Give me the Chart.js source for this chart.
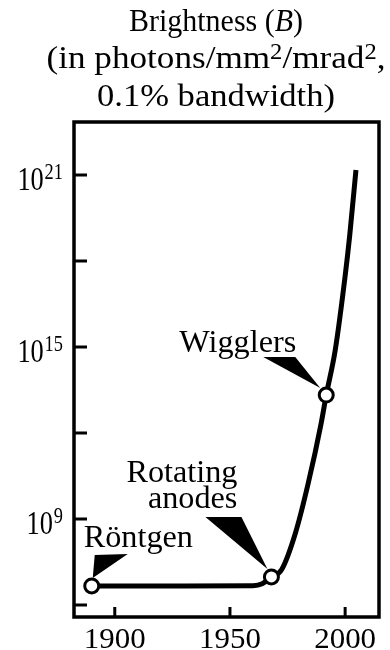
<!DOCTYPE html>
<html>
<head>
<meta charset="utf-8">
<script src="https://cdn.jsdelivr.net/npm/chart.js"></script>
<style>
  body { margin: 0; background: #fff; }
  .wrap { position: relative; width: 390px; height: 650px; }
  .tl { position: absolute; left: 216px; white-space: nowrap; font-family: "Liberation Serif", serif;
        font-size: 32px; line-height: 32px; color: #000; transform-origin: 0 0; }
  .tl sup { font-size: 0.7em; vertical-align: 0.42em; line-height: 0; }
</style>
</head>
<body>
<div class="wrap">
  <canvas id="c"></canvas>
  <div class="tl" style="top:4px">Brightness (<i>B</i>)</div>
  <div class="tl" style="top:41px">(in photons/mm<sup>2</sup>/mrad<sup>2</sup>,</div>
  <div class="tl" style="top:79px">0.1% bandwidth)</div>
</div>
<script>
// curve
const curveYears = [1890, 1930, 1960, 1964, 1968, 1972.4, 1978.4, 1984, 1989.6, 1991.8, 1995.7, 2000, 2002, 2004.7];
const curveValues = [4.6e6, 4.6e6, 4.7e6, 5.5e6, 9.5e6, 1.7e7, 3.2e8, 1.8e10, 2.2e12, 2.1e13, 7.8e14, 3e17, 8e18, 1.5e21];

// marked milestones
const milestoneNames = [['Röntgen'], ['Rotating', 'anodes'], ['Wigglers']];
const milestoneYears = [1890, 1968, 1991.8];
const milestoneValues = [4.6e6, 9.5e6, 2.1e13];

// axis ticks
const xTicks = [1900, 1950, 2000];
const yTicks = [1e6, 1e9, 1e12, 1e15, 1e18, 1e21];
const yTickExponents = ['', '9', '', '15', '', '21'];

const FONT = '"Liberation Serif", serif';

// title lines are stretched to the widths seen in the scan
const titleWidths = [174, 339, 238];
document.querySelectorAll('.tl').forEach((el, i) => {
  const w = el.getBoundingClientRect().width;
  const sx = titleWidths[i] / w;
  el.style.transform = 'scale(' + sx + ', 1) translateX(-50%)';
});

// label placement relative to its point (text anchor + wedge pointer)
const labelLayout = [
  { align: 'left', dx: -8, dy: [-39], wedge: [[1, -8], [3, -31], [36, -32]] },
  { align: 'right', dx: -34, dy: [-95, -69], wedge: [[-4, -8], [-66, -60], [-30, -60]] },
  { align: 'right', dx: -30, dy: [-43], wedge: [[-6, -7], [-63, -38], [-31, -38]] }
];

// draws text horizontally squeezed/stretched so it fits the width seen in the scan
function fitText(ctx, txt, x, y, fontPx, sx, sy, align) {
  ctx.save();
  ctx.translate(x, y);
  ctx.scale(sx, sy);
  ctx.font = fontPx + 'px ' + FONT;
  ctx.textAlign = align;
  ctx.fillText(txt, 0, 0);
  ctx.restore();
}

const decor = {
  id: 'decor',
  afterDraw(chart) {
    const ctx = chart.ctx;
    const a = chart.chartArea;
    const xs = chart.scales.x, ys = chart.scales.y;
    ctx.save();
    ctx.strokeStyle = '#000';
    ctx.fillStyle = '#000';
    ctx.textBaseline = 'alphabetic';
    ctx.lineWidth = 3.5;
    ctx.strokeRect(a.left, a.top, a.right - a.left, a.bottom - a.top);

    // inward ticks
    ctx.lineWidth = 3;
    ctx.beginPath();
    xs.ticks.forEach(t => {
      const px = xs.getPixelForValue(t.value);
      ctx.moveTo(px, a.bottom); ctx.lineTo(px, a.bottom - 10);
    });
    ys.ticks.forEach(t => {
      const py = ys.getPixelForValue(t.value);
      ctx.moveTo(a.left, py); ctx.lineTo(a.left + 13, py);
    });
    ctx.stroke();

    // x labels
    xs.ticks.forEach(t => {
      fitText(ctx, String(t.value), xs.getPixelForValue(t.value), a.bottom + 31, 30, 1.03, 1, 'center');
    });

    // y labels: 10 with superscript exponent
    ys.ticks.forEach((t, i) => {
      const exp = yTickExponents[i];
      if (!exp) return;
      const py = ys.getPixelForValue(t.value);
      ctx.save();
      ctx.translate(a.left - 11, py);
      ctx.scale(0.8, 1);
      ctx.textAlign = 'right';
      ctx.font = '23px ' + FONT;
      const ew = ctx.measureText(exp).width;
      ctx.fillText(exp, 0, 4);
      ctx.font = '33px ' + FONT;
      ctx.fillText('10', -ew - 1, 15);
      ctx.restore();
    });

    // milestone labels with wedge pointers
    const meta = chart.getDatasetMeta(0);
    meta.data.forEach((pt, i) => {
      const L = labelLayout[i];
      ctx.beginPath();
      L.wedge.forEach(([dx, dy], k) => {
        if (k === 0) ctx.moveTo(pt.x + dx, pt.y + dy); else ctx.lineTo(pt.x + dx, pt.y + dy);
      });
      ctx.closePath();
      ctx.fill();
      milestoneNames[i].forEach((line, k) => {
        fitText(ctx, line, pt.x + L.dx, pt.y + L.dy[k], 31, 1.04, 1, L.align);
      });
    });
    ctx.restore();
  }
};

new Chart(document.getElementById('c'), {
  type: 'line',
  data: {
    datasets: [
      {
        type: 'scatter',
        data: milestoneYears.map((x, i) => ({ x, y: milestoneValues[i] })),
        pointRadius: 7,
        pointBorderWidth: 3,
        pointBackgroundColor: '#fff',
        pointBorderColor: '#000',
        order: 0
      },
      {
        data: curveYears.map((x, i) => ({ x, y: curveValues[i] })),
        borderColor: '#000',
        borderWidth: 5,
        pointRadius: 0,
        cubicInterpolationMode: 'monotone',
        fill: false,
        order: 1
      }
    ]
  },
  options: {
    responsive: true,
    maintainAspectRatio: false,
    animation: false,
    layout: { padding: { left: 74, right: 11, top: 122, bottom: 33 } },
    plugins: { legend: { display: false }, tooltip: { enabled: false }, title: { display: false } },
    scales: {
      x: {
        type: 'linear', display: false, min: 1882.3, max: 2014.7,
        afterBuildTicks: s => { s.ticks = xTicks.map(v => ({ value: v })); }
      },
      y: {
        type: 'logarithmic', display: false, min: 3.8e5, max: 7.08e22,
        afterBuildTicks: s => { s.ticks = yTicks.map(v => ({ value: v })); }
      }
    }
  },
  plugins: [decor]
});
</script>
</body>
</html>
